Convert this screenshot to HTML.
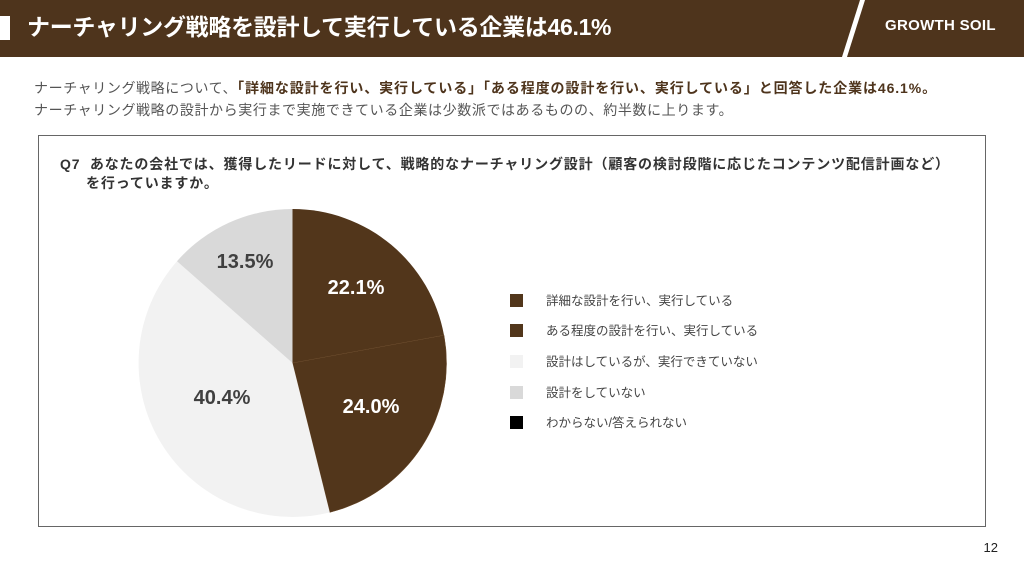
<!DOCTYPE html>
<html><head><meta charset="utf-8"><style>
body{margin:0;width:1024px;height:576px;background:#fff;position:relative;overflow:hidden;font-family:"Liberation Sans","Noto Sans CJK JP",sans-serif;}
.hdr{position:absolute;left:0;top:0;width:1024px;height:57px;background:#4e341c;}
.bar{position:absolute;left:0;top:16px;width:10px;height:24px;background:#fff;}
.title{position:absolute;left:27px;top:11px;color:#fff;font-size:23px;font-weight:bold;line-height:32px;letter-spacing:-0.3px;}
.logo{position:absolute;left:885px;top:17px;color:#fff;font-size:15px;font-weight:bold;letter-spacing:0.3px;}
.desc{position:absolute;left:34px;font-size:14px;letter-spacing:0.6px;color:#555;white-space:nowrap;}
.desc b{color:#4e341c;letter-spacing:0.9px;}
.box{position:absolute;left:38px;top:135px;width:948px;height:392px;border:1px solid #666;box-sizing:border-box;}
.q{position:absolute;left:60px;top:155px;font-size:14px;letter-spacing:0.85px;font-weight:bold;color:#333;line-height:19px;white-space:nowrap;}
.lg{position:absolute;left:510px;font-size:12.5px;color:#444;}
.lg i{position:absolute;left:0;top:1px;width:13px;height:13px;}
.lg span{position:absolute;left:36px;top:-3px;white-space:nowrap;}
.pg{position:absolute;right:26px;top:540px;font-size:13px;color:#222;}
</style></head><body>
<div class="hdr"></div>
<svg style="position:absolute;left:0;top:0" width="1024" height="60"><polygon points="860,0 865,0 847,57 842,57" fill="#fff"/></svg>
<div class="bar"></div>
<div class="title">ナーチャリング戦略を設計して実行している企業は46.1%</div>
<div class="logo">GROWTH SOIL</div>
<div class="desc" style="top:78px">ナーチャリング戦略について、<b>「詳細な設計を行い、実行している」「ある程度の設計を行い、実行している」と回答した企業は46.1%。</b></div>
<div class="desc" style="top:100px">ナーチャリング戦略の設計から実行まで実施できている企業は少数派ではあるものの、約半数に上ります。</div>
<div class="box"></div>
<div class="q">Q7&nbsp; あなたの会社では、獲得したリードに対して、戦略的なナーチャリング設計（顧客の検討段階に応じたコンテンツ配信計画など）<br><span style="padding-left:26px">を行っていますか。</span></div>
<svg style="position:absolute;left:0;top:0" width="1024" height="576">
<path d="M292.5,363 L292.5,209 A154,154 0 0 1 444,335.2 Z" fill="#52361b"/>
<path d="M292.5,363 L444,335.2 A154,154 0 0 1 329.8,512.4 Z" fill="#52361b" stroke="#6b4a2a" stroke-width="0.5"/>
<path d="M292.5,363 L329.8,512.4 A154,154 0 0 1 177,261.2 Z" fill="#f2f2f2"/>
<path d="M292.5,363 L177,261.2 A154,154 0 0 1 292.5,209 Z" fill="#d9d9d9"/>
<g font-family="Liberation Sans, sans-serif" font-weight="bold" font-size="20" text-anchor="middle">
<text x="356" y="294" fill="#fff">22.1%</text>
<text x="371" y="413" fill="#fff">24.0%</text>
<text x="222" y="404" fill="#404040">40.4%</text>
<text x="245" y="268" fill="#404040">13.5%</text>
</g></svg>
<div class="lg" style="top:293px"><i style="background:#52361b"></i><span>詳細な設計を行い、実行している</span></div>
<div class="lg" style="top:323px"><i style="background:#52361b"></i><span>ある程度の設計を行い、実行している</span></div>
<div class="lg" style="top:354px"><i style="background:#f2f2f2"></i><span>設計はしているが、実行できていない</span></div>
<div class="lg" style="top:385px"><i style="background:#d9d9d9"></i><span>設計をしていない</span></div>
<div class="lg" style="top:415px"><i style="background:#000"></i><span>わからない/答えられない</span></div>
<div class="pg">12</div>
</body></html>
